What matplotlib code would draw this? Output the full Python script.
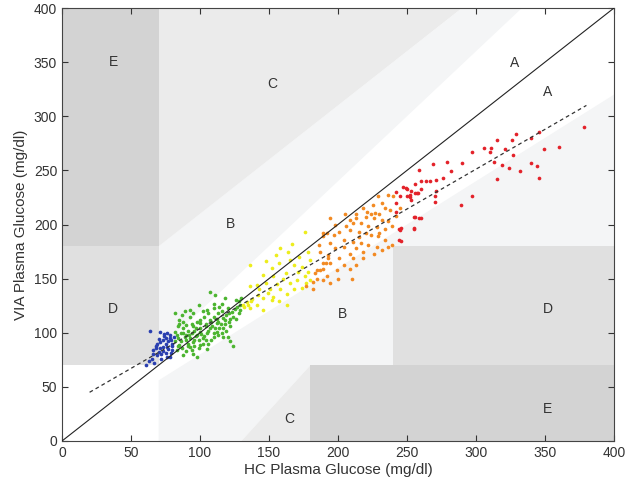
import numpy as np
import matplotlib
matplotlib.use('Agg')
import matplotlib.pyplot as plt

# ═══ Data ═════════════════════════════════════════════════════════════════

blue_pts = [(64, 102), (71, 101), (76, 100), (78, 95), (73, 93), (69, 90), (66, 84), (71, 86),
            (76, 87), (80, 84), (75, 81), (69, 79), (65, 76), (72, 76), (61, 70), (80, 90),
            (67, 72), (78, 78), (81, 96), (74, 97), (77, 92), (70, 94), (68, 88), (79, 81),
            (73, 83), (75, 90), (72, 80), (77, 85), (80, 88), (66, 80), (70, 82), (74, 99),
            (78, 98), (71, 91), (76, 78), (63, 74), (68, 86), (79, 93), (73, 87), (75, 95)]

green_pts = [(82, 118), (87, 116), (93, 115), (99, 126), (105, 121), (113, 118), (116, 127),
             (120, 123), (128, 129), (129, 121), (124, 115), (118, 112), (112, 109), (107, 112),
             (100, 109), (95, 106), (90, 107), (84, 106), (82, 101), (88, 100), (94, 100),
             (100, 101), (106, 102), (112, 101), (117, 104), (122, 106), (117, 96), (108, 93),
             (102, 95), (96, 93), (90, 93), (84, 95), (85, 89), (93, 87), (100, 89), (106, 90),
             (83, 84), (90, 83), (98, 78), (88, 79), (122, 92), (98, 98), (114, 124), (110, 127),
             (85, 112), (93, 121), (88, 110), (104, 106), (110, 100), (107, 138), (129, 126),
             (124, 88), (86, 92), (89, 96), (91, 90), (93, 95), (95, 91), (97, 97), (99, 93),
             (101, 99), (103, 97), (105, 100), (107, 104), (109, 106), (111, 104), (113, 110),
             (115, 108), (117, 114), (119, 116), (121, 118), (123, 119), (125, 122), (127, 124),
             (84, 88), (87, 86), (91, 88), (94, 84), (96, 88), (99, 86), (102, 90), (104, 93),
             (110, 96), (113, 98), (116, 100), (119, 102), (121, 110), (126, 113), (128, 118),
             (88, 104), (91, 102), (94, 108), (97, 104), (100, 112), (103, 115), (106, 118),
             (110, 115), (82, 92), (83, 98), (86, 100), (92, 98), (96, 102), (100, 104),
             (104, 108), (108, 110), (112, 113), (114, 104), (118, 108), (120, 96), (105, 85),
             (95, 80), (90, 98), (98, 110), (102, 120), (110, 123), (116, 120), (122, 113),
             (126, 130), (130, 132), (118, 132), (111, 135), (95, 118), (89, 120), (85, 108)]

yellow_pts = [(176, 193), (158, 178), (164, 175), (178, 175), (148, 166), (157, 164), (165, 167),
              (174, 161), (180, 167), (168, 163), (152, 160), (146, 153), (153, 152), (162, 155),
              (171, 156), (178, 156), (176, 152), (180, 149), (170, 149), (165, 146), (148, 146),
              (141, 144), (136, 143), (143, 140), (151, 140), (158, 140), (168, 140), (177, 146),
              (174, 141), (163, 136), (153, 133), (146, 132), (137, 129), (135, 126), (141, 126),
              (152, 130), (157, 129), (136, 123), (146, 121), (163, 126), (136, 163), (132, 124),
              (134, 128), (131, 126), (138, 131), (160, 150), (156, 145), (149, 137), (142, 135),
              (172, 170), (167, 182), (155, 172)]

orange_pts = [(229, 226), (236, 227), (240, 226), (232, 220), (234, 215), (238, 213), (230, 210),
              (227, 211), (224, 210), (221, 212), (220, 207), (213, 210), (226, 206), (232, 204),
              (236, 203), (213, 206), (209, 204), (211, 201), (217, 201), (222, 199), (228, 198),
              (234, 196), (239, 199), (206, 199), (201, 193), (209, 195), (215, 193), (220, 192),
              (224, 190), (229, 189), (234, 186), (239, 181), (236, 179), (194, 206), (189, 192),
              (197, 190), (204, 186), (211, 184), (217, 183), (222, 181), (228, 179), (213, 178),
              (218, 175), (226, 173), (232, 176), (209, 173), (204, 179), (198, 178), (193, 172),
              (187, 175), (201, 169), (211, 169), (218, 169), (194, 164), (204, 163), (213, 163),
              (209, 159), (199, 158), (189, 159), (185, 158), (192, 152), (200, 150), (189, 164),
              (210, 150), (185, 150), (194, 146), (183, 155), (187, 158), (191, 164), (182, 147),
              (189, 149), (193, 169), (186, 181), (189, 189), (194, 183), (192, 192), (245, 215),
              (242, 208), (225, 218), (218, 215), (205, 210), (198, 200), (182, 140), (177, 143),
              (215, 188), (230, 192)]

red_pts = [(378, 290), (360, 272), (349, 270), (329, 284), (315, 278), (346, 285), (340, 280),
           (326, 278), (321, 270), (311, 271), (310, 267), (306, 271), (297, 267), (327, 264),
           (340, 257), (344, 254), (319, 255), (313, 258), (324, 252), (332, 249), (346, 243),
           (315, 242), (290, 257), (279, 258), (269, 256), (282, 249), (259, 250), (276, 243),
           (271, 241), (267, 240), (260, 240), (264, 240), (256, 237), (249, 234), (253, 231),
           (260, 233), (271, 231), (257, 229), (252, 225), (253, 223), (250, 226), (270, 226),
           (270, 221), (297, 226), (289, 218), (255, 207), (260, 206), (246, 197), (255, 197),
           (242, 230), (245, 226), (250, 233), (252, 227), (256, 229), (258, 229), (242, 212),
           (256, 207), (259, 206), (244, 196), (245, 195), (255, 196), (244, 186), (246, 185),
           (242, 220), (247, 235)]

groups = [blue_pts, green_pts, yellow_pts, orange_pts, red_pts]
group_colors = ['#2a3fb0', '#4cb530', '#eded1c', '#f28a22', '#e3222a']

# regression line end points
fit_x = [20, 380]
fit_y = [45, 310]

# zone labels
zone_labels = [('E', 37, 350), ('C', 152, 330), ('A', 328, 349), ('A', 352, 322),
               ('B', 122, 200), ('D', 37, 122), ('B', 203, 117), ('D', 352, 122),
               ('C', 165, 20), ('E', 352, 30)]

# ═══ Figure ═══════════════════════════════════════════════════════════════

plt.rcParams['font.family'] = ['Liberation Sans', 'DejaVu Sans']
fig = plt.figure(figsize=(6.29, 4.83), dpi=100)
ax = fig.add_axes([62/629, 1-441/483, 552/629, 433/483])

# ─── Zones (Clarke error grid)

c_E, c_D, c_C, c_B = '#d3d3d3', '#e0e0e0', '#ebebeb', '#f4f5f6'
ax.fill([70, 70, 400, 400, 240, 240, 180, 130], [0, 56, 320, 180, 180, 70, 70, 0], color=c_B, lw=0)
ax.fill([70, 70, 290, 333.3], [84, 180, 400, 400], color=c_B, lw=0)
ax.fill([70, 70, 290], [180, 400, 400], color=c_C, lw=0)
ax.fill([130, 180, 180], [0, 70, 0], color=c_C, lw=0)
ax.fill([0, 70, 70, 0], [70, 70, 180, 180], color=c_D, lw=0)
ax.fill([240, 400, 400, 240], [70, 70, 180, 180], color=c_D, lw=0)
ax.fill([0, 70, 70, 0], [180, 180, 400, 400], color=c_E, lw=0)
ax.fill([180, 400, 400, 180], [0, 0, 70, 70], color=c_E, lw=0)

for txt, x, y in zone_labels:
  ax.text(x, y, txt, ha='center', va='center', fontsize=10, color='#333333')

# ─── Points and lines

for pts, col in zip(groups, group_colors):
  P = np.array(pts)
  ax.scatter(P[:, 0], P[:, 1], s=7, color=col, lw=0, zorder=3)

ax.plot([0, 400], [0, 400], color='#222222', lw=0.8, zorder=4)
ax.plot(fit_x, fit_y, color='#333333', lw=0.9, ls=(0, (3, 2.5)), zorder=4)

# ─── Plot options

ax.set_xlim(0, 400)
ax.set_ylim(0, 400)
ax.set_xticks(np.arange(0, 401, 50))
ax.set_yticks(np.arange(0, 401, 50))
ax.tick_params(direction='in', top=True, right=True, labelsize=10, colors='#333333', length=4)
for s in ax.spines.values():
  s.set_color('#444444')
  s.set_linewidth(0.8)

ax.set_xlabel('HC Plasma Glucose (mg/dl)', fontsize=11, color='#333333', labelpad=2)
ax.set_ylabel('VIA Plasma Glucose (mg/dl)', fontsize=11, color='#333333', labelpad=4)

fig.savefig('out.png', dpi=100)
